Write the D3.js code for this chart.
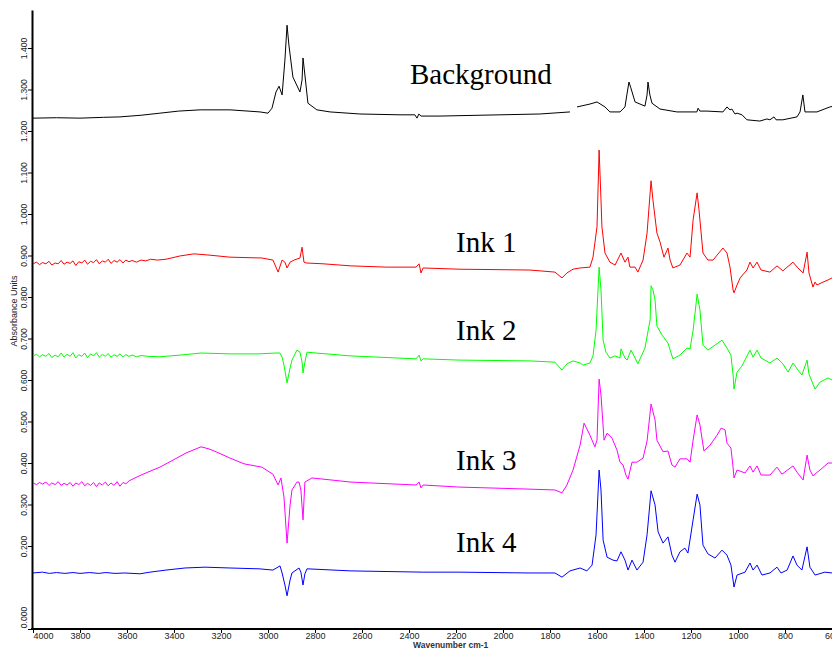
<!DOCTYPE html>
<html><head><meta charset="utf-8">
<script src="https://cdn.jsdelivr.net/npm/d3@7"></script>
<style>body{margin:0;background:#fff;} svg{display:block;}</style>
</head><body>
<svg id="chart" width="832" height="650"></svg>
<script>
// ---------- data (wavenumber cm-1, absorbance) ----------
const seriesNames = ["Background", "Ink 1", "Ink 2", "Ink 3", "Ink 4"];
const seriesColors = ["#000000", "#ff0000", "#00ff00", "#ff00ff", "#0000ff"];

const background = [[4000,1.231],[3900,1.232],[3800,1.231],[3700,1.233],[3630,1.234],[3540,1.238],[3460,1.243],[3380,1.248],[3289,1.251],[3162,1.251],[3034,1.246],[3000,1.243],[2983,1.255],[2966,1.294],[2953,1.308],[2940,1.287],[2928,1.371],[2919,1.455],[2911,1.407],[2894,1.330],[2864,1.294],[2855,1.323],[2851,1.376],[2843,1.335],[2830,1.267],[2792,1.251],[2736,1.246],[2609,1.241],[2438,1.239],[2375,1.239],[2366,1.231],[2358,1.241],[2349,1.236],[2268,1.236],[2013,1.239],[1843,1.241],[1715,1.246],[1700,null],[1685,1.258],[1630,1.265],[1600,1.270],[1566,1.258],[1545,1.246],[1502,1.246],[1481,1.258],[1473,1.287],[1464,1.318],[1456,1.304],[1438,1.270],[1396,1.260],[1387,1.287],[1383,1.318],[1375,1.287],[1366,1.267],[1332,1.253],[1260,1.246],[1175,1.246],[1170,1.255],[1162,1.248],[1132,1.248],[1064,1.246],[1047,1.258],[1034,1.251],[1026,1.253],[1013,1.241],[1004,1.243],[983,1.239],[962,1.227],[907,1.224],[877,1.229],[864,1.227],[847,1.234],[838,1.227],[809,1.227],[749,1.234],[736,1.246],[724,1.287],[715,1.246],[664,1.246],[609,1.258],[600,1.259]];

const ink1 = [[4000,0.880],[3985,0.884],[3972,0.878],[3960,0.883],[3945,0.880],[3932,0.886],[3920,0.877],[3906,0.882],[3893,0.880],[3880,0.888],[3868,0.879],[3855,0.884],[3842,0.881],[3830,0.887],[3818,0.876],[3805,0.885],[3792,0.882],[3780,0.889],[3768,0.879],[3755,0.886],[3742,0.883],[3730,0.890],[3718,0.880],[3705,0.887],[3692,0.884],[3680,0.891],[3668,0.881],[3655,0.888],[3642,0.884],[3630,0.890],[3617,0.882],[3605,0.889],[3592,0.885],[3578,0.888],[3560,0.884],[3540,0.889],[3520,0.887],[3500,0.891],[3470,0.889],[3434,0.891],[3374,0.899],[3315,0.904],[3251,0.901],[3162,0.896],[3026,0.894],[2979,0.889],[2957,0.860],[2940,0.889],[2928,0.884],[2919,0.870],[2906,0.884],[2889,0.889],[2864,0.894],[2855,0.920],[2847,0.884],[2838,0.882],[2766,0.880],[2647,0.875],[2494,0.872],[2370,0.872],[2357,0.880],[2349,0.858],[2340,0.870],[2187,0.867],[1885,0.865],[1779,0.860],[1749,0.846],[1728,0.858],[1702,0.867],[1672,0.870],[1630,0.872],[1617,0.896],[1600,0.969],[1591,1.154],[1583,1.034],[1579,0.969],[1566,0.906],[1545,0.884],[1523,0.877],[1498,0.906],[1481,0.884],[1468,0.896],[1460,0.872],[1438,0.872],[1426,0.860],[1404,0.889],[1387,0.954],[1370,1.080],[1362,1.034],[1345,0.954],[1332,0.933],[1315,0.896],[1298,0.918],[1289,0.889],[1277,0.870],[1247,0.877],[1217,0.906],[1204,0.896],[1191,0.986],[1174,1.051],[1166,1.010],[1149,0.906],[1128,0.889],[1106,0.889],[1089,0.901],[1064,0.918],[1047,0.906],[1034,0.872],[1021,0.817],[1017,0.810],[1004,0.829],[991,0.846],[962,0.865],[949,0.884],[936,0.870],[919,0.884],[902,0.865],[864,0.860],[834,0.875],[809,0.863],[766,0.884],[745,0.870],[723,0.858],[706,0.908],[698,0.858],[681,0.824],[672,0.836],[664,0.829],[638,0.836],[617,0.841],[600,0.846]];

const ink2 = [[4000,0.658],[3985,0.662],[3972,0.656],[3960,0.661],[3945,0.657],[3932,0.664],[3920,0.654],[3906,0.660],[3893,0.656],[3880,0.665],[3868,0.655],[3855,0.662],[3842,0.657],[3830,0.666],[3818,0.653],[3805,0.661],[3792,0.657],[3780,0.665],[3768,0.654],[3755,0.663],[3742,0.658],[3730,0.666],[3718,0.655],[3705,0.662],[3692,0.657],[3680,0.664],[3668,0.655],[3655,0.661],[3642,0.657],[3630,0.663],[3617,0.656],[3605,0.661],[3592,0.657],[3578,0.660],[3560,0.656],[3540,0.659],[3511,0.657],[3460,0.656],[3374,0.660],[3285,0.665],[3162,0.663],[3038,0.663],[2966,0.665],[2949,0.665],[2940,0.655],[2932,0.636],[2919,0.593],[2906,0.629],[2898,0.648],[2877,0.672],[2864,0.667],[2855,0.643],[2851,0.617],[2843,0.643],[2834,0.667],[2796,0.665],[2647,0.658],[2370,0.651],[2357,0.660],[2349,0.646],[2340,0.651],[2187,0.648],[1885,0.646],[1779,0.643],[1749,0.624],[1728,0.639],[1702,0.646],[1672,0.641],[1660,0.636],[1630,0.641],[1617,0.658],[1604,0.720],[1591,0.872],[1583,0.817],[1574,0.696],[1562,0.667],[1545,0.653],[1523,0.658],[1502,0.653],[1498,0.675],[1481,0.653],[1472,0.648],[1455,0.672],[1438,0.653],[1426,0.639],[1396,0.677],[1374,0.745],[1370,0.827],[1362,0.817],[1353,0.793],[1345,0.730],[1323,0.708],[1298,0.689],[1277,0.651],[1247,0.660],[1217,0.677],[1204,0.675],[1191,0.720],[1174,0.807],[1162,0.769],[1149,0.684],[1128,0.672],[1098,0.684],[1068,0.696],[1047,0.677],[1030,0.660],[1021,0.612],[1017,0.578],[1004,0.619],[983,0.634],[949,0.672],[936,0.655],[919,0.672],[902,0.653],[864,0.641],[834,0.653],[809,0.639],[787,0.619],[766,0.641],[745,0.624],[728,0.612],[706,0.648],[698,0.614],[672,0.578],[651,0.595],[617,0.605],[600,0.600]];

const ink3 = [[4000,0.352],[3985,0.348],[3972,0.353],[3960,0.349],[3945,0.354],[3932,0.346],[3920,0.352],[3906,0.348],[3893,0.355],[3880,0.346],[3868,0.351],[3855,0.347],[3842,0.353],[3830,0.344],[3818,0.352],[3805,0.348],[3792,0.355],[3780,0.345],[3768,0.351],[3755,0.346],[3742,0.353],[3730,0.343],[3718,0.352],[3705,0.347],[3692,0.354],[3680,0.345],[3668,0.352],[3655,0.346],[3642,0.355],[3630,0.344],[3617,0.353],[3605,0.350],[3591,0.357],[3566,0.364],[3540,0.371],[3511,0.378],[3460,0.390],[3404,0.407],[3349,0.424],[3285,0.439],[3251,0.434],[3221,0.427],[3162,0.412],[3102,0.398],[3026,0.390],[2979,0.373],[2957,0.347],[2945,0.364],[2932,0.318],[2919,0.207],[2906,0.299],[2898,0.335],[2877,0.354],[2868,0.354],[2860,0.335],[2851,0.263],[2843,0.354],[2813,0.364],[2647,0.354],[2370,0.347],[2357,0.354],[2349,0.340],[2340,0.347],[2187,0.342],[1885,0.337],[1779,0.335],[1749,0.328],[1728,0.347],[1702,0.383],[1672,0.443],[1655,0.496],[1630,0.467],[1609,0.439],[1600,0.455],[1591,0.602],[1583,0.564],[1570,0.455],[1557,0.472],[1536,0.460],[1515,0.431],[1502,0.402],[1489,0.395],[1477,0.371],[1468,0.361],[1451,0.402],[1430,0.402],[1404,0.412],[1387,0.453],[1370,0.542],[1353,0.504],[1345,0.455],[1319,0.427],[1298,0.429],[1281,0.395],[1268,0.390],[1247,0.410],[1217,0.410],[1204,0.402],[1191,0.455],[1174,0.516],[1162,0.492],[1145,0.429],[1119,0.443],[1089,0.467],[1072,0.484],[1055,0.480],[1047,0.448],[1030,0.436],[1021,0.390],[1017,0.364],[1004,0.383],[970,0.376],[949,0.393],[936,0.378],[919,0.393],[902,0.371],[864,0.371],[834,0.390],[813,0.373],[766,0.393],[749,0.378],[723,0.359],[706,0.419],[694,0.383],[681,0.369],[651,0.383],[617,0.400],[600,0.400]];

const ink4 = [[4000,0.135],[3960,0.137],[3930,0.134],[3900,0.136],[3864,0.134],[3830,0.136],[3800,0.134],[3760,0.136],[3720,0.134],[3690,0.136],[3651,0.134],[3609,0.135],[3545,0.133],[3502,0.137],[3434,0.142],[3353,0.147],[3268,0.149],[3162,0.147],[3038,0.145],[2979,0.142],[2949,0.152],[2940,0.135],[2928,0.106],[2919,0.080],[2906,0.118],[2898,0.135],[2868,0.147],[2860,0.137],[2851,0.106],[2843,0.133],[2834,0.145],[2647,0.140],[2340,0.137],[2187,0.137],[1885,0.135],[1779,0.135],[1749,0.125],[1715,0.140],[1672,0.147],[1643,0.140],[1621,0.154],[1604,0.227],[1591,0.383],[1583,0.335],[1574,0.214],[1557,0.173],[1532,0.166],[1515,0.164],[1498,0.186],[1481,0.166],[1468,0.142],[1451,0.166],[1430,0.142],[1404,0.161],[1387,0.227],[1370,0.333],[1353,0.299],[1340,0.234],[1319,0.207],[1298,0.222],[1281,0.178],[1268,0.161],[1247,0.186],[1226,0.195],[1213,0.183],[1191,0.263],[1174,0.325],[1162,0.299],[1149,0.202],[1128,0.181],[1098,0.171],[1068,0.190],[1047,0.178],[1030,0.154],[1017,0.101],[1004,0.130],[970,0.137],[949,0.159],[936,0.142],[919,0.154],[898,0.130],[864,0.135],[834,0.149],[817,0.135],[791,0.142],[766,0.176],[749,0.154],[728,0.142],[706,0.198],[694,0.149],[672,0.130],[630,0.137],[600,0.135]];

const xTickValues = [4000,3800,3600,3400,3200,3000,2800,2600,2400,2200,2000,1800,1600,1400,1200,1000,800,600];
const yTickValues = [0,0.2,0.3,0.4,0.5,0.6,0.7,0.8,0.9,1.0,1.1,1.2,1.3,1.4];
const xAxisTitle = "Wavenumber cm-1";
const yAxisTitle = "Absorbance Units";

// ---------- layout ----------
const allSeries = [background, ink1, ink2, ink3, ink4];
const labelPixel = [[410,84],[456,252],[456,340],[456,470],[456,552]];

const svg = d3.select("#chart");
const x = d3.scaleLinear().domain([4000, 600]).range([33, 832]);
const y = d3.scaleLinear().domain([0, 1.4916]).range([629, 10]);

// axes
const xAxis = svg.append("g").attr("transform", "translate(0,629)")
  .call(d3.axisBottom(x).tickValues(xTickValues).tickSize(4).tickSizeOuter(0).tickFormat(d3.format("d")));
xAxis.select(".domain").attr("stroke", "#000").attr("stroke-width", 2).attr("d", "M31,0H832");
xAxis.selectAll(".tick line").attr("stroke", "#000");
xAxis.selectAll(".tick text")
  .attr("font-family", "Liberation Sans, Arial, sans-serif").attr("font-size", 9)
  .attr("fill", "#222").attr("y", 10).attr("dy", 0)
  .attr("x", d => d === 4000 ? 10 : 0);

const yAxis = svg.append("g").attr("transform", "translate(32,0)")
  .call(d3.axisLeft(y).tickValues(yTickValues).tickSize(4).tickSizeOuter(0).tickFormat(d3.format(".3f")));
yAxis.select(".domain").attr("stroke", "#000").attr("stroke-width", 2);
yAxis.selectAll(".tick line").attr("stroke", "#000");
yAxis.selectAll(".tick text")
  .attr("font-family", "Liberation Sans, Arial, sans-serif").attr("font-size", 8.5)
  .attr("fill", "#222").attr("text-anchor", "middle")
  .attr("transform", "rotate(-90)").attr("x", d => d === 0 ? 12 : 0).attr("y", -5).attr("dy", 0);

svg.append("text").attr("x", 413).attr("y", 648)
  .attr("font-family", "Liberation Sans, Arial, sans-serif").attr("font-size", 8.5)
  .attr("font-weight", "bold").attr("fill", "#333")
  .text(xAxisTitle);
svg.append("text").attr("transform", "translate(17,311) rotate(-90)")
  .attr("text-anchor", "middle")
  .attr("font-family", "Liberation Sans, Arial, sans-serif").attr("font-size", 9)
  .attr("fill", "#222").text(yAxisTitle);

// spectra
const line = d3.line().defined(d => d[1] !== null).x(d => x(d[0])).y(d => y(d[1]));
allSeries.forEach((s, i) => {
  svg.append("path").datum(s).attr("fill", "none")
    .attr("stroke", seriesColors[i]).attr("stroke-width", 1)
    .attr("stroke-linejoin", "round").attr("d", line);
});

// series labels
seriesNames.forEach((n, i) => {
  svg.append("text").attr("x", labelPixel[i][0]).attr("y", labelPixel[i][1])
    .attr("font-family", "Liberation Serif, Times New Roman, serif").attr("font-size", 29)
    .attr("fill", "#000").text(n);
});
</script>
</body></html>
